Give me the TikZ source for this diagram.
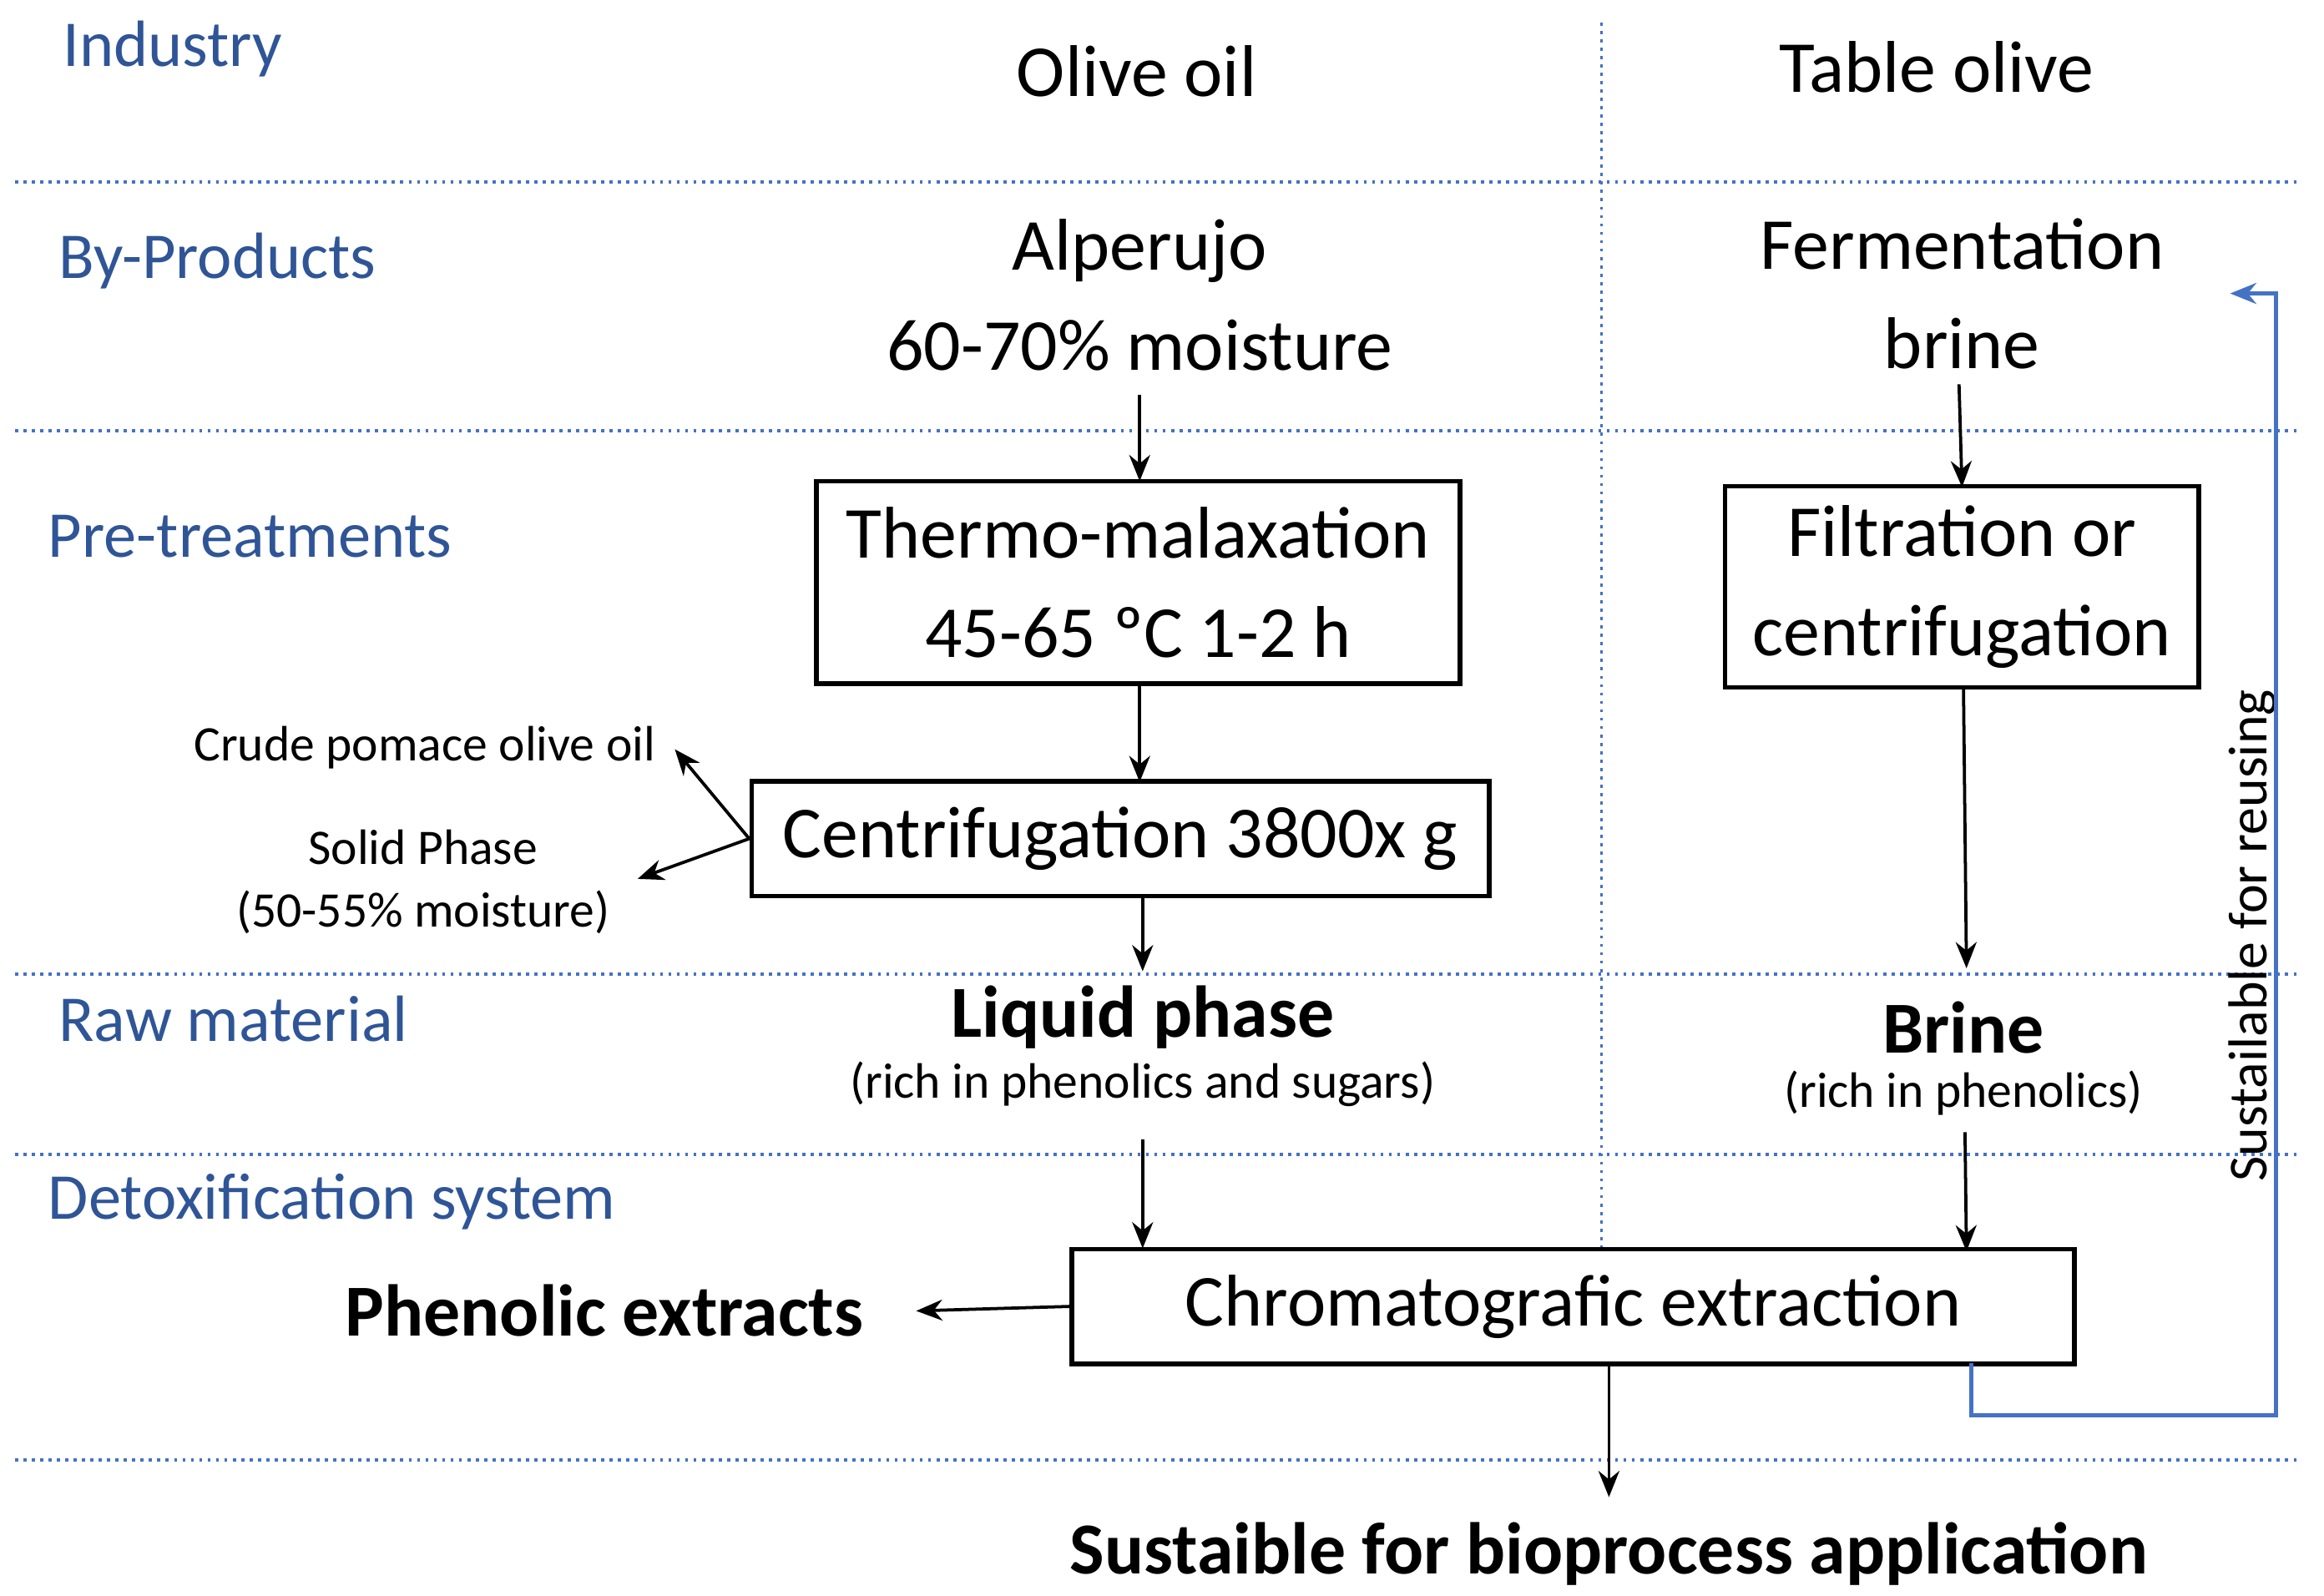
\documentclass[tikz,border=0pt]{standalone}
\usepackage{fontspec}
\setmainfont{Carlito}
\usetikzlibrary{arrows.meta}
\definecolor{lb}{RGB}{68,114,196}
\definecolor{lt}{RGB}{47,85,151}
\begin{document}
\begin{tikzpicture}[x=0.1mm,y=-0.1mm,
 sep/.style={lb,densely dotted,line width=0.6pt},
 cat/.style={anchor=west,text=lt,font=\fontsize{12.5}{15}\selectfont},
 big/.style={align=center,font=\fontsize{14}{19}\selectfont},
 box/.style={draw,line width=0.9pt,align=center,font=\fontsize{14}{19}\selectfont},
 bold/.style={font=\bfseries\fontsize{14}{17}\selectfont},
 sm/.style={align=center,font=\fontsize{9.5}{12}\selectfont},
 arr/.style={-{Stealth[length=5pt,width=4pt]},line width=0.6pt}]
\useasboundingbox (0,0) rectangle (1560,1071);
\foreach \y in {122,289,654,775,980} \draw[sep] (10,\y) -- (1545,\y);
\draw[sep] (1075,15) -- (1075,838);
\node[cat] at (30,33) {Industry};
\node[cat] at (27,175) {By-Products};
\node[cat] at (20,360) {Pre-treatments};
\node[cat] at (27,684) {Raw material};
\node[cat] at (20,807) {Detoxification system};
\node[big] (oo) at (763,48) {Olive oil};
\node[big] (to) at (1300,45) {Table olive};
\node[big] (alp) at (765,198) {Alperujo\\60-70\% moisture};
\node[big] (fb) at (1317,197) {Fermentation\\brine};
\node[box,minimum width=43.2mm,minimum height=13.6mm] (th) at (764,391) {Thermo-malaxation\\45-65 ºC 1-2 h};
\node[box,minimum width=31.8mm,minimum height=13.5mm] (fi) at (1317,394) {Filtration or\\centrifugation};
\node[box,minimum width=49.5mm,minimum height=7.7mm] (ce) at (752,563) {Centrifugation 3800x g};
\node[sm] (cp) at (285,502) {Crude pomace olive oil};
\node[sm] (sp) at (284,592) {Solid Phase\\(50-55\% moisture)};
\coordinate (cpe) at (453,503);
\coordinate (spe) at (428,590);
\node[bold] (lp) at (767,683) {Liquid phase};
\node[sm] (lps) at (767,728) {(rich in phenolics and sugars)};
\node[bold] (br) at (1318,690) {Brine};
\node[sm] (brs) at (1318,734) {(rich in phenolics)};
\node[box,minimum width=67.3mm,minimum height=7.7mm,fill=white] (ch) at (1056,877) {Chromatografic extraction};
\node[bold,anchor=east] (pe) at (592,880) {Phenolic extracts};
\node[bold] (sb) at (1080,1043) {Sustaible for bioprocess application};
\node[rotate=90,font=\fontsize{10.5}{12}\selectfont] (su) at (1512,628) {Sustailable for reusing};
\coordinate (a1) at (765,265);
\coordinate (b1) at (1315,258);
\coordinate (lpb) at (767,765);
\coordinate (brb) at (1319,760);
\coordinate (lpt) at (767,652);
\coordinate (brt) at (1320,650);
\coordinate (sbt) at (1080,1005);
\coordinate (pee) at (615,880);
\draw[arr] (a1) -- (765,323);
\draw[arr] (b1) -- (1317,327);
\draw[arr] (765,459) -- (765,525);
\draw[arr] (767,602) -- (lpt);
\draw[arr] (1318,462) -- (brt);
\draw[arr] (lpb) -- (767,838);
\draw[arr] (brb) -- (1320,840);
\draw[arr] (ce.west) -- (cpe);
\draw[arr] (ce.west) -- (spe);
\draw[arr] (ch.west) -- (pee);
\draw[arr] (1080,915) -- (sbt);
\coordinate (ret) at (1497,197);
\draw[lb,line width=0.8pt,-{Stealth[length=5pt,width=4pt]}] (1323,915) -- (1323,950) -- (1528,950) -- (1528,197) -- (ret);
\end{tikzpicture}
\end{document}
